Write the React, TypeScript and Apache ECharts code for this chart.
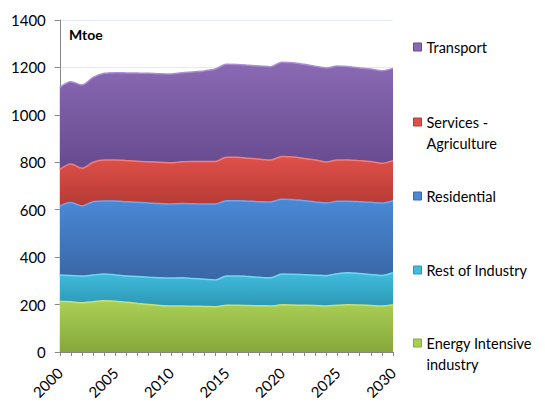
import React, { useEffect, useRef } from "react";
import * as echarts from "echarts";

const years: string[] = [];
for (let y = 2000; y <= 2030; y++) years.push(String(y));

const energyIntensive = [214, 212, 208, 212, 216, 214, 210, 205, 200, 196, 194, 194, 193, 192, 191, 197, 197, 196, 195, 194, 199, 198, 197, 196, 194, 197, 199, 198, 196, 194, 199];
const restOfIndustry = [111, 111, 112, 113, 113, 111, 111, 113, 115, 117, 118, 119, 117, 115, 113, 123, 124, 122, 120, 119, 130, 130, 129, 128, 128, 133, 135, 133, 131, 129, 135];
const residential = [291, 307, 296, 309, 308, 312, 313, 313, 313, 313, 312, 313, 315, 317, 320, 318, 317, 318, 319, 320, 315, 314, 312, 309, 306, 306, 302, 303, 304, 305, 304];
const servicesAgriculture = [154, 163, 159, 166, 173, 173, 173, 173, 174, 174, 174, 176, 178, 179, 179, 183, 183, 181, 179, 177, 180, 180, 178, 177, 173, 174, 174, 173, 172, 168, 169];
const transport = [346, 347, 351, 358, 365, 368, 370, 372, 373, 373, 374, 376, 378, 382, 390, 392, 391, 392, 393, 393, 398, 398, 397, 395, 397, 396, 393, 391, 390, 390, 389];

const yTicks = { min: 0, max: 1400, interval: 200 };

const FONT = "Lato, 'Open Sans', 'DejaVu Sans', sans-serif";

const seriesDefs = [
  { name: "Energy Intensive industry", data: energyIntensive, top: "#AACF55", bottom: "#86A83C", line: "#C6E07A", legendTop: 303.5, label: "\nEnergy Intensive\nindustry" },
  { name: "Rest of Industry", data: restOfIndustry, top: "#40BCDD", bottom: "#2D97B5", line: "#70D6F0", legendTop: 251.5, label: "Rest of Industry" },
  { name: "Residential", data: residential, top: "#4A89D7", bottom: "#3966A4", line: "#6FA6EE", legendTop: 177.5, label: "Residential" },
  { name: "Services - Agriculture", data: servicesAgriculture, top: "#E0504A", bottom: "#B53A34", line: "#F27E78", legendTop: 82.5, label: "\nServices -\nAgriculture" },
  { name: "Transport", data: transport, top: "#8A6AB4", bottom: "#664A8E", line: "#A98ED0", legendTop: 28.5, label: "Transport" },
];

export default function App() {
  const ref = useRef<HTMLDivElement>(null);
  useEffect(() => {
    if (!ref.current) return;
    const chart = echarts.init(ref.current, null, { renderer: "svg" });
    const labelMap: Record<string, string> = {};
    seriesDefs.forEach((s) => (labelMap[s.name] = s.label));
    const legends = seriesDefs.map((s) => ({
      data: [{ name: s.name, itemStyle: { color: s.top, borderColor: s.bottom, borderWidth: 1 } }],
      orient: "vertical",
      left: 405,
      top: s.legendTop,
      icon: "rect",
      itemWidth: 8,
      itemHeight: 8,
      itemGap: 0,
      padding: 0,
      selectedMode: false,
      formatter: (n: string) => labelMap[n],
      textStyle: {
        fontFamily: FONT,
        fontSize: 14.5,
        color: "#000",
        lineHeight: 21,
      },
    }));
    chart.setOption({
      animation: false,
      grid: { left: 47, top: 12, right: 152, bottom: 63 },
      legend: legends,
      graphic: [
        {
          type: "text",
          left: 61,
          top: 19,
          style: { text: "Mtoe", font: `bold 14px ${FONT}`, fill: "#000" },
        },
      ],
      xAxis: {
        type: "category",
        data: years,
        boundaryGap: false,
        axisLine: { lineStyle: { color: "#868686", width: 1 } },
        axisTick: { show: true, interval: 0, length: 4, lineStyle: { color: "#868686" } },
        axisLabel: {
          interval: 4,
          rotate: 45,
          margin: 18,
          fontFamily: FONT,
          fontSize: 15,
          color: "#000",
        },
        splitLine: { show: false },
      },
      yAxis: {
        type: "value",
        min: yTicks.min,
        max: yTicks.max,
        interval: yTicks.interval,
        axisLine: { show: true, lineStyle: { color: "#868686", width: 1 } },
        axisTick: { show: true, length: 5, lineStyle: { color: "#868686" } },
        axisLabel: {
          fontFamily: FONT,
          fontSize: 15,
          color: "#000",
          margin: 14,
          formatter: (v: number) => String(v),
        },
        splitLine: { show: true, lineStyle: { color: "#E3EAF4", width: 1 } },
      },
      series: seriesDefs.map((s) => ({
        name: s.name,
        type: "line",
        stack: "total",
        data: s.data,
        symbol: "none",
        smooth: 0.3,
        lineStyle: { color: s.line, width: 1.5 },
        itemStyle: { color: s.top },
        areaStyle: {
          opacity: 1,
          color: new echarts.graphic.LinearGradient(0, 0, 0, 1, [
            { offset: 0, color: s.top },
            { offset: 1, color: s.bottom },
          ]),
        },
      })),
    });
    return () => chart.dispose();
  }, []);
  return <div ref={ref} style={{ width: 537, height: 407 }} />;
}
